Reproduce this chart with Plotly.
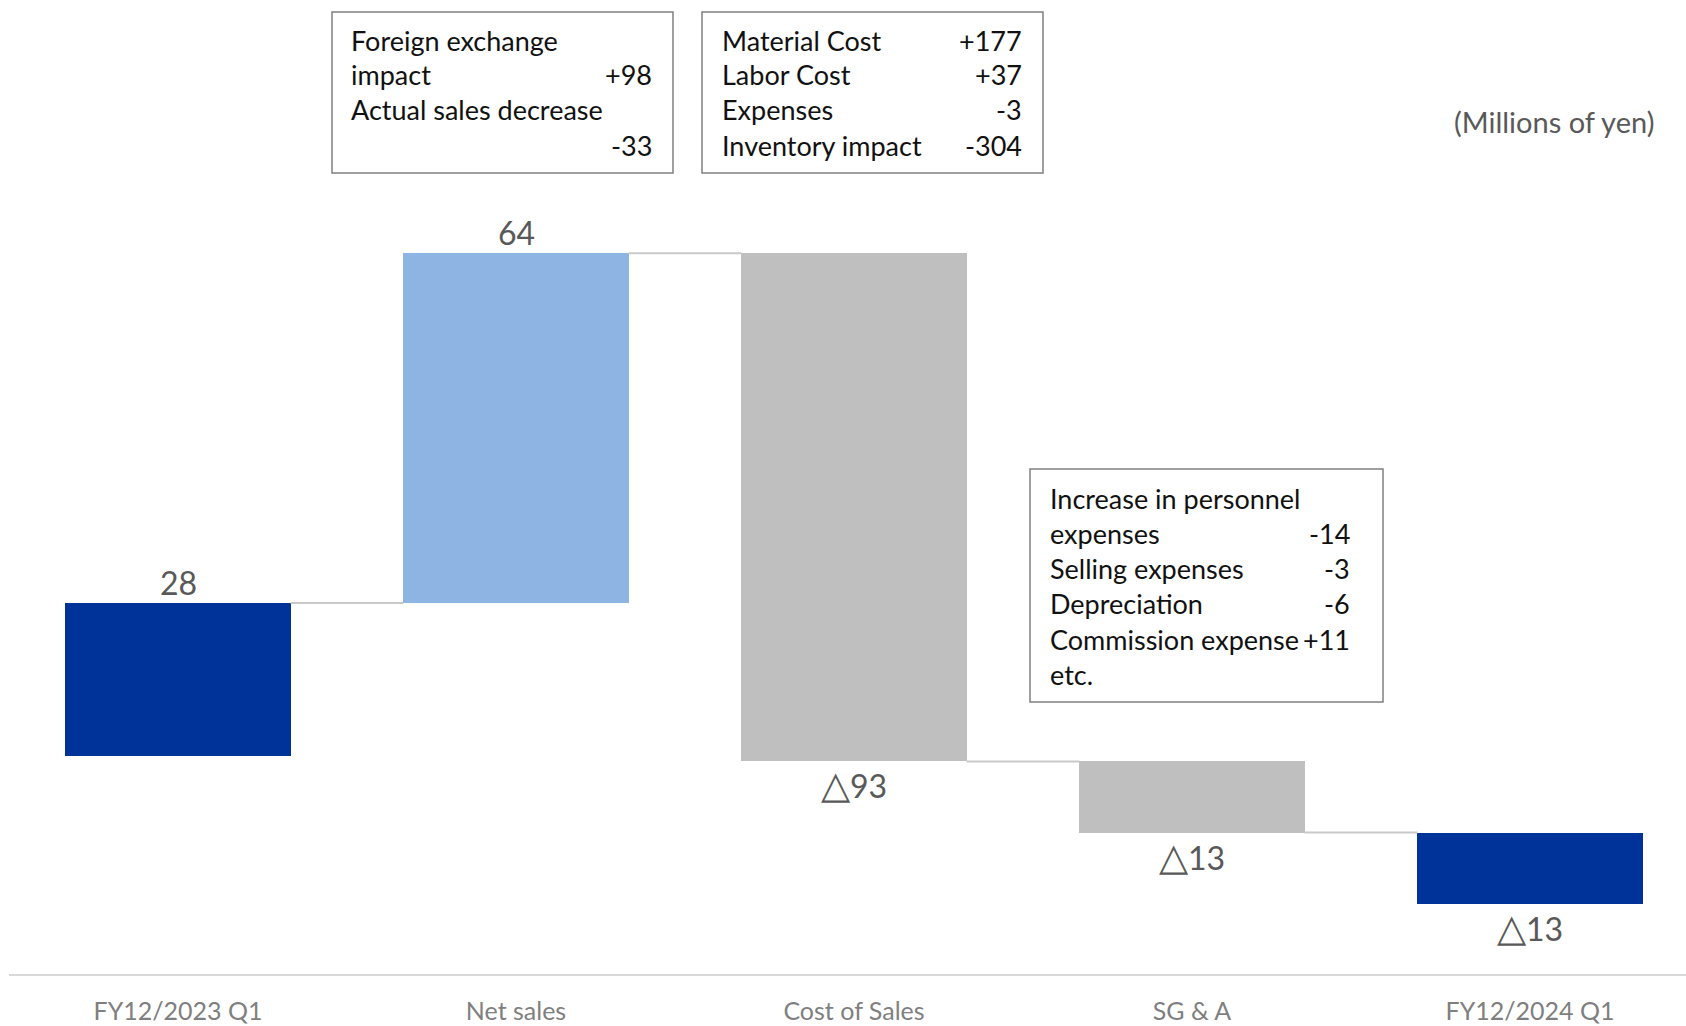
import plotly.graph_objects as go

# ---------------- data ----------------
categories = ["FY12/2023 Q1", "Net sales", "Cost of Sales", "SG & A", "FY12/2024 Q1"]
changes = [28, 64, -93, -13, -13]
value_labels = ["28", "64", "△93", "△13", "△13"]
bar_colors = ["#003399", "#8EB4E3", "#BFBFBF", "#BFBFBF", "#003399"]

box1_rows = [("Foreign exchange", ""), ("impact", "+98"),
             ("Actual sales decrease", ""), ("", "-33")]
box2_rows = [("Material Cost", "+177"), ("Labor Cost", "+37"),
             ("Expenses", "-3"), ("Inventory impact", "-304")]
box3_rows = [("Increase in personnel", ""), ("expenses", "-14"),
             ("Selling expenses", "-3"), ("Depreciation", "-6"),
             ("Commission expense", "+11"), ("etc.", "")]
unit_note = "(Millions of yen)"

# ---------------- geometry ----------------
W, H = 1686, 1026
L, R, T, B = 9, 0, 180, 52
PW, PH = W - L - R, H - T - B
PX_PER_CAT = 338.0
PX_PER_UNIT = 5.464
ZERO_PX = 756.0
x_range = [-0.5, -0.5 + PW / PX_PER_CAT]
y_max = (ZERO_PX - T) / PX_PER_UNIT
y_range = [y_max - PH / PX_PER_UNIT, y_max]
BAR_W = 0.666

FONT = "Lato"


def px_x(px):
    return (px - L) / PW


def px_y(py):
    return (H - B - py) / PH


def fmt_label(s):
    # enlarge the triangle glyph to match the reference's wide △
    return s.replace("△", '<span style="font-size:38px">△</span>')


bases = []
run = 0
for c in changes:
    bases.append(run)
    run += c
ends = [b + c for b, c in zip(bases, changes)]
xs = list(range(len(categories)))

fig = go.Figure()

# connector lines
for i in range(len(categories) - 1):
    lvl = ends[i]
    fig.add_trace(go.Scatter(
        x=[xs[i] + BAR_W / 2, xs[i + 1] - BAR_W / 2], y=[lvl, lvl],
        mode="lines", line=dict(color="#C9C9C9", width=2),
        showlegend=False, hoverinfo="skip"))

fig.add_trace(go.Bar(
    x=xs, y=changes, base=bases, width=BAR_W,
    marker=dict(color=bar_colors, line=dict(width=0)),
    showlegend=False, hoverinfo="skip"))

annotations = []
# value labels
for i, (b, e, lab) in enumerate(zip(bases, ends, value_labels)):
    if changes[i] >= 0:
        y, ys = max(b, e), 21
    else:
        y, ys = min(b, e), -22
    annotations.append(dict(
        x=xs[i], y=y, xref="x", yref="y", text=fmt_label(lab), showarrow=False,
        xanchor="center", yanchor="middle", yshift=ys,
        font=dict(family=FONT, size=32, color="#595959")))

shapes = []


def add_box(x0, y0, x1, y1, rows, tx_left, tx_right, row_y0, row_dy):
    shapes.append(dict(type="rect", xref="paper", yref="paper",
                       x0=px_x(x0), x1=px_x(x1), y0=px_y(y1), y1=px_y(y0),
                       line=dict(color="#808080", width=1.5),
                       fillcolor="white", layer="above"))
    for k, (left, right) in enumerate(rows):
        yy = px_y(row_y0 + k * row_dy)
        if left:
            annotations.append(dict(
                x=px_x(tx_left), y=yy, xref="paper", yref="paper", text=left,
                showarrow=False, xanchor="left", yanchor="middle",
                font=dict(family=FONT, size=27, color="#111111")))
        if right:
            annotations.append(dict(
                x=px_x(tx_right), y=yy, xref="paper", yref="paper", text=right,
                showarrow=False, xanchor="right", yanchor="middle",
                font=dict(family=FONT, size=27, color="#111111")))


add_box(332, 12, 673, 173, box1_rows, 349, 654, 40, 35)
add_box(702, 12, 1043, 173, box2_rows, 720, 1024, 40, 35)
add_box(1030, 469, 1383, 702, box3_rows, 1048, 1352, 498, 35.3)

annotations.append(dict(
    x=px_x(1656), y=px_y(122), xref="paper", yref="paper", text=unit_note,
    showarrow=False, xanchor="right", yanchor="middle",
    font=dict(family=FONT, size=29, color="#595959")))

fig.update_layout(
    width=W, height=H,
    margin=dict(l=L, r=R, t=T, b=B, pad=0, autoexpand=False),
    paper_bgcolor="white", plot_bgcolor="white",
    xaxis=dict(range=x_range, tickmode="array", tickvals=xs, ticktext=categories,
               showgrid=False, zeroline=False, showline=True, automargin=False,
               linecolor="#D9D9D9", linewidth=2, ticks="",
               ticklabelstandoff=14,
               tickfont=dict(family=FONT, size=25, color="#7F7F7F")),
    yaxis=dict(range=y_range, showgrid=False, zeroline=False, showline=False,
               showticklabels=False, ticks="", automargin=False),
    annotations=annotations, shapes=shapes,
    bargap=0,
)

fig.write_html("out.html")
